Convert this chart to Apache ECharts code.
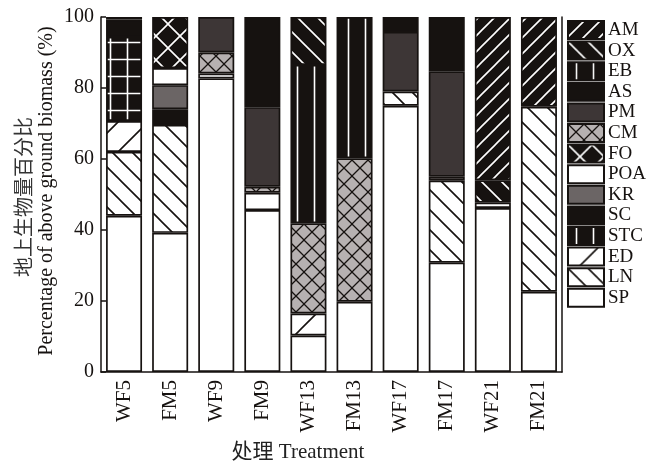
<!DOCTYPE html>
<html><head><meta charset="utf-8">
<script src="https://cdn.jsdelivr.net/npm/echarts@6/dist/echarts.min.js"></script>
<style>html,body{margin:0;padding:0;background:#fff}#c{width:666px;height:465px}</style>
</head><body><div id="c"></div>
<script>
// ---- data ----
const categories = ['WF5','FM5','WF9','FM9','WF13','FM13','WF17','FM17','WF21','FM21'];
const SP  = [44, 39.2, 82.7, 45.6, 10.3, 19.8, 75, 30.8, 46.2, 22.6];
const LN  = [18, 30.4, 0, 0, 0, 0, 4, 23.1, 0, 52.1];
const ED  = [8.7, 0, 0, 0, 6.2, 0, 0, 0, 0, 0];
const STC = [23.7, 0, 0, 0, 0, 0, 0, 0, 0, 0];
const SC  = [4.9, 4.4, 0, 0, 0, 0, 0, 0, 0, 0];
const KR  = [0.7, 6.8, 0, 0, 0, 0, 0, 1.1, 0, 0];
const POA = [0, 4.8, 1.4, 4.9, 0, 0, 0, 0, 1.5, 0];
const FO  = [0, 14.4, 0, 0, 0, 0, 0, 0, 0, 0];
const CM  = [0, 0, 5.9, 1.7, 25.4, 40.4, 0, 0, 0, 0];
const PM  = [0, 0, 10, 22.4, 0, 0, 16.8, 29.7, 0, 0];
const AS  = [0, 0, 0, 25.4, 0, 0, 4.2, 15.3, 0, 0];
const EB  = [0, 0, 0, 0, 44.6, 39.8, 0, 0, 0, 0];
const OX  = [0, 0, 0, 0, 13.5, 0, 0, 0, 6.3, 0];
const AM  = [0, 0, 0, 0, 0, 0, 0, 0, 46, 25.3];
const yTicks = [0, 20, 40, 60, 80, 100];

const seriesNames = ['SP','LN','ED','STC','SC','KR','POA','FO','CM','PM','AS','EB','OX','AM'];
const seriesData = {SP,LN,ED,STC,SC,KR,POA,FO,CM,PM,AS,EB,OX,AM};

// ---- patterns ----
const BLACK = '#161210';
function tile(size, bg, fg, lw, draw){
  const c = document.createElement('canvas');
  c.width = size; c.height = size;
  const g = c.getContext('2d');
  g.fillStyle = bg; g.fillRect(0,0,size,size);
  g.strokeStyle = fg; g.lineWidth = lw;
  draw(g, size);
  return {image: c, repeat: 'repeat'};
}
function slash(g,s){ g.beginPath(); g.moveTo(-1,s+1); g.lineTo(s+1,-1); g.moveTo(-s/2,s/2); g.lineTo(s/2,-s/2); g.moveTo(s/2,s*1.5); g.lineTo(s*1.5,s/2); g.stroke(); }
function back(g,s){ g.beginPath(); g.moveTo(-1,-1); g.lineTo(s+1,s+1); g.moveTo(-s/2,s/2); g.lineTo(s/2,s*1.5); g.moveTo(s/2,-s/2); g.lineTo(s*1.5,s/2); g.stroke(); }
function vert(g,s){ g.beginPath(); g.moveTo(s/2,0); g.lineTo(s/2,s); g.stroke(); }
function grid(g,s){ g.beginPath(); g.moveTo(s/2,0); g.lineTo(s/2,s); g.moveTo(0,s/2); g.lineTo(s,s/2); g.stroke(); }
function cross(g,s){ slash(g,s); back(g,s); }

const fills = {
  SP: '#ffffff',
  LN: tile(20, '#ffffff', BLACK, 1.6, back),
  ED: tile(30, '#ffffff', BLACK, 1.6, slash),
  STC: tile(17, BLACK, '#ffffff', 1.6, vert),
  SC: BLACK,
  KR: '#6b6565',
  POA: '#ffffff',
  FO: tile(24, BLACK, '#ffffff', 1.6, cross),
  CM: tile(16, '#b6b1b1', BLACK, 1.3, cross),
  PM: '#3d3636',
  AS: BLACK,
  EB: tile(17, BLACK, '#ffffff', 1.6, vert),
  OX: tile(20, BLACK, '#ffffff', 1.6, back),
  AM: tile(16, BLACK, '#ffffff', 1.6, slash)
};
const stcGrid = tile(17, BLACK, '#ffffff', 1.6, grid);

const FONT = "'Liberation Serif','Noto Sans CJK SC',serif";

const series = seriesNames.map(name => ({
  name: name,
  type: 'bar',
  stack: 'total',
  barWidth: 36,
  itemStyle: {color: fills[name], borderColor: BLACK, borderWidth: 1.7},
  emphasis: {disabled: true},
  data: seriesData[name].map((v, i) => {
    if (!v) return '-';
    if (name === 'STC' && categories[i] === 'WF5') return {value: v, itemStyle: {color: stcGrid}};
    return v;
  })
}));

const chart = echarts.init(document.getElementById('c'), null, {renderer: 'canvas'});
chart.setOption({
  animation: false,
  backgroundColor: '#ffffff',
  grid: {left: 101, right: 104, top: 17, bottom: 93, containLabel: false},
  legend: {
    orient: 'vertical', left: 567, top: 20, padding: 0,
    itemWidth: 36, itemHeight: 18, itemGap: 0.6,
    icon: 'rect',
    data: seriesNames.slice().reverse(),
    textStyle: {fontFamily: FONT, fontSize: 19, color: BLACK, lineHeight: 18, padding: [0,0,0,-1]},
    selectedMode: false
  },
  xAxis: {
    type: 'category', data: categories,
    axisLine: {lineStyle: {color: BLACK, width: 1.5}},
    axisTick: {inside: true, alignWithLabel: true, length: 5, lineStyle: {color: BLACK, width: 1.5}},
    axisLabel: {rotate: 90, margin: 8, fontFamily: FONT, fontSize: 21, color: BLACK}
  },
  yAxis: [{
    type: 'value', min: 0, max: 100, interval: 20,
    axisLine: {show: true, lineStyle: {color: BLACK, width: 1.5}},
    axisTick: {show: true, inside: true, length: 5, lineStyle: {color: BLACK, width: 1.5}},
    splitLine: {show: false},
    axisLabel: {margin: 7, fontFamily: FONT, fontSize: 20, color: BLACK,
      formatter: v => yTicks.includes(v) ? String(v) : ''}
  }, {
    type: 'value', min: 0, max: 100, interval: 20, position: 'right',
    axisLine: {show: true, lineStyle: {color: BLACK, width: 1.5}},
    axisTick: {show: false}, axisLabel: {show: false}, splitLine: {show: false}
  }],
  graphic: [
    {type: 'text', x: 23, y: 197, rotation: Math.PI/2,
     style: {text: '地上生物量百分比', font: "20px 'Noto Sans CJK SC'", fill: '#333', align: 'center', verticalAlign: 'middle'}},
    {type: 'text', x: 47, y: 191, rotation: Math.PI/2,
     style: {text: 'Percentage of above ground biomass (%)', font: "20px 'Liberation Serif'", fill: BLACK, align: 'center', verticalAlign: 'middle'}},
    {type: 'text', x: 298, y: 452,
     style: {text: '处理 Treatment', font: "21px 'Liberation Serif','Noto Sans CJK SC'", fill: '#222', align: 'center', verticalAlign: 'middle'}}
  ],
  series: series
});
</script></body></html>
